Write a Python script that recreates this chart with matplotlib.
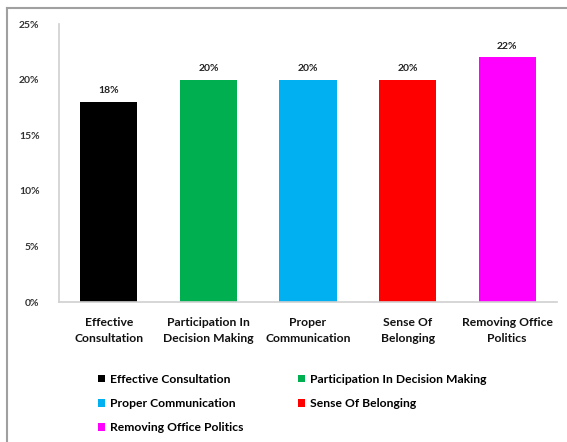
import matplotlib
matplotlib.use("Agg")
import matplotlib.pyplot as plt
from matplotlib.patches import Patch
from matplotlib.lines import Line2D

categories = ["Effective Consultation", "Participation In Decision Making",
              "Proper Communication", "Sense Of Belonging", "Removing Office Politics"]
tick_labels = ["Effective\nConsultation", "Participation In\nDecision Making",
               "Proper\nCommunication", "Sense Of\nBelonging", "Removing Office\nPolitics"]
values = [0.18, 0.20, 0.20, 0.20, 0.22]
value_labels = ["18%", "20%", "20%", "20%", "22%"]
colors = ["#000000", "#00B050", "#00B0F0", "#FF0000", "#FF00FF"]

plt.rcParams['font.family'] = ['Lato', 'DejaVu Sans']

fig = plt.figure(figsize=(5.67, 4.42), dpi=100)
ax = fig.add_axes([59/567, 1-302/442, (557-59)/567, (302-24)/442])

x = list(range(len(categories)))
bars = ax.bar(x, values, width=0.575, color=colors)
for xi, v, lab in zip(x, values, value_labels):
    ax.text(xi, v + 0.006, lab, ha='center', va='bottom', fontsize=7.5,
            color='#222222', fontweight='bold')

ax.set_xlim(-0.5, 4.5)
ax.set_ylim(0, 0.25)
ax.set_yticks([0, 0.05, 0.10, 0.15, 0.20, 0.25])
ax.set_yticklabels(["0%", "5%", "10%", "15%", "20%", "25%"], fontsize=7.5,
                   color='#333333', fontweight='bold')
ax.set_xticks(x)
ax.set_xticklabels(tick_labels, fontsize=8.7, color='#111111', linespacing=1.55,
                   fontweight='bold')
ax.tick_params(axis='both', length=0, pad=14)
ax.tick_params(axis='x', pad=11)
for s in ['top', 'right']:
    ax.spines[s].set_visible(False)
for s in ['left', 'bottom']:
    ax.spines[s].set_color('#d0d0d0')
    ax.spines[s].set_linewidth(1.2)

order = [0, 2, 4, 1, 3]
handles = [Patch(facecolor=colors[i], edgecolor='none') for i in order]
labels = [categories[i] for i in order]
fig.legend(handles, labels, ncol=2, loc='upper left',
           bbox_to_anchor=(93/567, 1-369/442), frameon=False,
           prop={'size': 8.7, 'weight': 'bold'},
           handlelength=0.6, handleheight=0.6, handletextpad=0.4,
           columnspacing=4.5, labelspacing=1.1, borderaxespad=0)

# frame lines (top and left)
fig.add_artist(Line2D([7/567, 1], [1-8/442, 1-8/442], color='#a0a0a0', lw=1.5, transform=fig.transFigure))
fig.add_artist(Line2D([7/567, 7/567], [0, 1-8/442], color='#a0a0a0', lw=1.5, transform=fig.transFigure))

fig.savefig("out.png", dpi=100)
